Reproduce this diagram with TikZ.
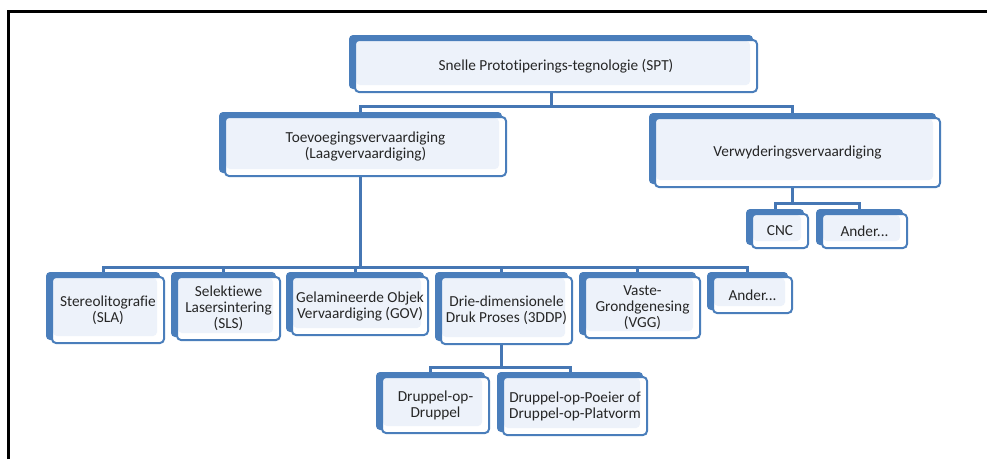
\documentclass[tikz,border=0pt]{standalone}
\usepackage{fontspec}
\setmainfont[Ligatures=NoCommon]{Carlito}
\usetikzlibrary{backgrounds}
\definecolor{boxblue}{HTML}{4A7EBB}
\definecolor{linkblue}{HTML}{4677B4}
\definecolor{innerfill}{HTML}{EDF2FA}
\definecolor{txt}{HTML}{262626}
\tikzset{
  box/.style={draw=boxblue, line width=2pt, fill=white, rounded corners=4pt,
    minimum width=#1, inner sep=1pt, align=center, text=txt,
    font=\fontsize{15.3}{16}\selectfont,
    path picture={\fill[innerfill] ([shift={(1pt,-1pt)}]path picture bounding box.north west)
      rectangle ([shift={(-7pt,7pt)}]path picture bounding box.south east);}},
  conn/.style={draw=linkblue, line width=3pt},
  frame/.style={draw=black, line width=3pt}
}
\begin{document}
\begin{tikzpicture}[x=1pt,y=1pt]
\useasboundingbox (0,0) rectangle (987,-459);
\draw[frame] (8,-459) -- (8,-11) -- (987,-11);

% nodes (front rectangles)
\node[box=402pt, minimum height=52pt] (spt) at (556,-66) {Snelle Prototiperings-tegnologie (SPT)};
\node[box=281pt, minimum height=59pt] (toe) at (365.5,-146.5) {Toevoegingsvervaardiging\\(Laagvervaardiging)};
\node[box=285pt, minimum height=69pt] (ver) at (797.5,-152.5) {Verwyderingsvervaardiging};
\node[box=56pt, minimum height=34pt] (cnc) at (780,-231) {CNC};
\node[box=85pt, minimum height=34pt] (and1) at (864.5,-231) {Ander...};
\node[box=112pt, minimum height=66pt] (sla) at (108,-310) {Stereolitografie\\(SLA)};
\node[box=103pt, minimum height=63pt] (sls) at (228.5,-308.5) {Selektiewe\\Lasersintering\\(SLS)};
\node[box=136pt, minimum height=58pt] (gov) at (360,-306) {Gelamineerde Objek\\Vervaardiging (GOV)};
\node[box=131pt, minimum height=67pt] (ddp) at (506.5,-310.5) {Drie-dimensionele\\Druk Proses (3DDP)};
\node[box=115pt, minimum height=61pt] (vgg) at (642.5,-307.5) {Vaste-\\Grondgenesing\\(VGG)};
\node[box=79pt, minimum height=36pt] (and2) at (752.5,-295) {Ander...};
\node[box=107pt, minimum height=56pt] (dod) at (435.5,-405) {Druppel-op-\\Druppel};
\node[box=144pt, minimum height=58pt] (dop) at (575,-406) {Druppel-op-Poeier of\\Druppel-op-Platvorm};

\begin{scope}[on background layer]
% connectors
\draw[conn] ([xshift=-5pt]spt.south) -- ++(0,-13) coordinate (b1);
\draw[conn] ([xshift=-5pt]toe.north) |- (b1) -| ([xshift=-5pt]ver.north);
\draw[conn] ([xshift=-5pt]toe.south) -- ++(0,-90) coordinate (b2);
\foreach \n in {sla,sls,gov,ddp,vgg,and2}
  \draw[conn] ([xshift=-5pt]\n.north) |- (b2);
\draw[conn] ([xshift=-5pt]ddp.south) -- ++(0,-22) coordinate (b3);
\foreach \n in {dod,dop}
  \draw[conn] ([xshift=-5pt]\n.north) |- (b3);
\draw[conn] ([xshift=-5pt]ver.south) -- ++(0,-15) coordinate (b4);
\foreach \n in {cnc,and1}
  \draw[conn] ([xshift=-5pt]\n.north) |- (b4);
% back shadows
\foreach \n in {spt,toe,ver,cnc,and1,sla,sls,gov,ddp,vgg,and2,dod,dop}
  \fill[boxblue, rounded corners=4pt] ([shift={(-5pt,4pt)}]\n.south west) rectangle ([shift={(-5pt,4pt)}]\n.north east);
\end{scope}
\end{tikzpicture}
\end{document}
